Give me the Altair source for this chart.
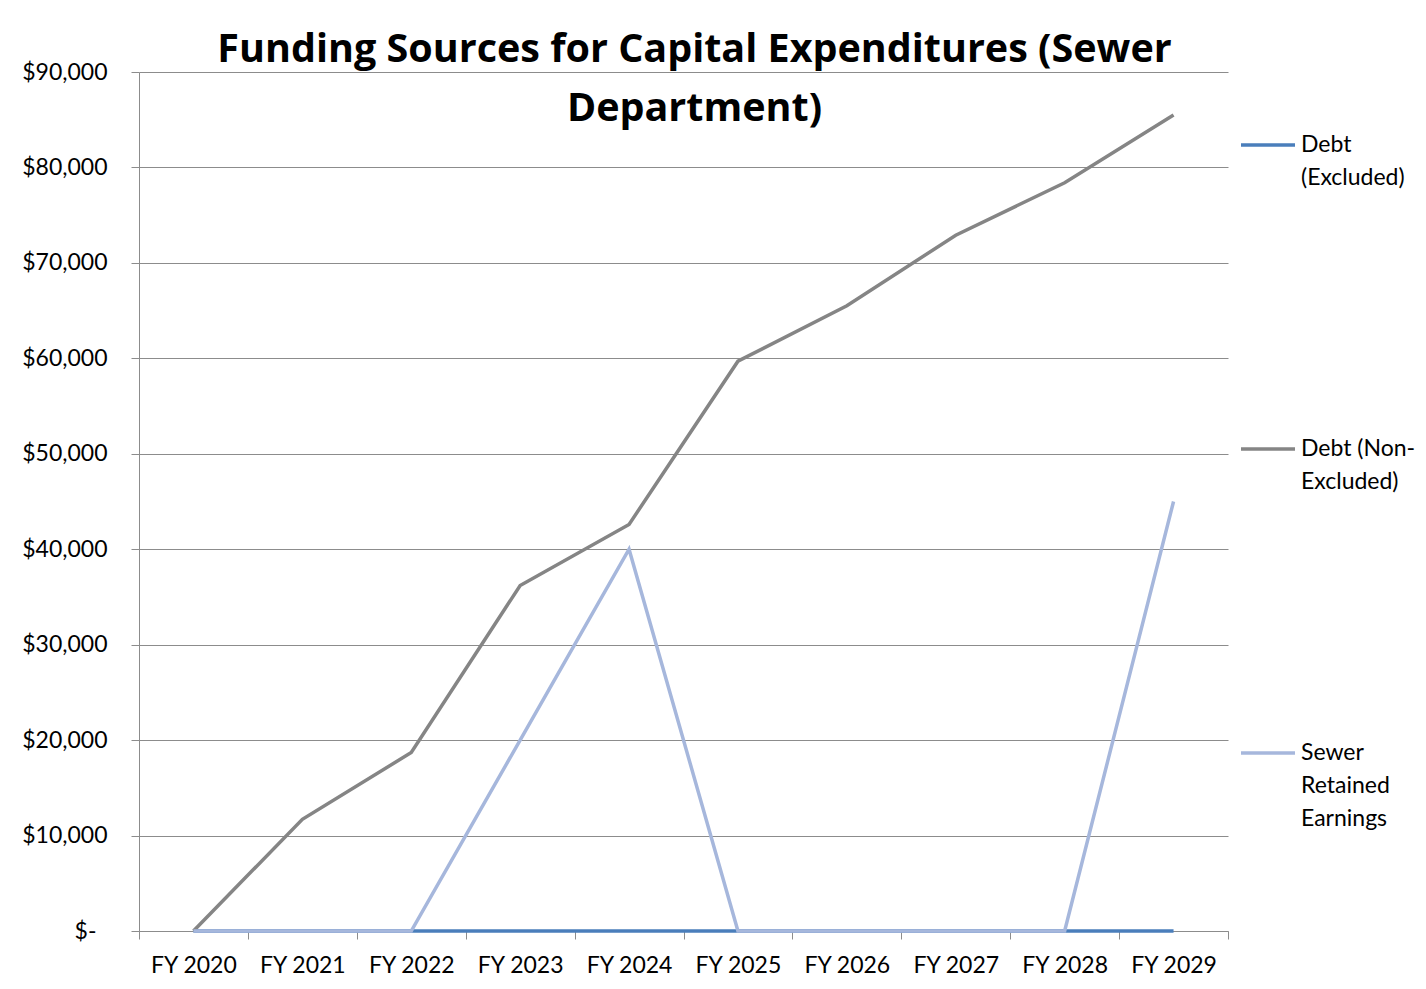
import altair as alt
import pandas as pd

years = ["FY 2020", "FY 2021", "FY 2022", "FY 2023", "FY 2024",
         "FY 2025", "FY 2026", "FY 2027", "FY 2028", "FY 2029"]
debt_excluded = [0, 0, 0, 0, 0, 0, 0, 0, 0, 0]
debt_non_excluded = [0, 11700, 18700, 36200, 42600, 59700, 65500, 72900, 78400, 85500]
sewer_retained = [0, 0, 0, 20000, 40000, 0, 0, 0, 0, 45000]

series_names = ["Debt (Excluded)", "Debt (Non-Excluded)", "Sewer Retained Earnings"]
series_colors = ["#4a7ebb", "#858585", "#a6b7dc"]

rows = []
for name, vals in zip(series_names, [debt_excluded, debt_non_excluded, sewer_retained]):
    for i, (y, v) in enumerate(zip(years, vals)):
        rows.append({"year": y, "series": name, "value": v, "order": series_names.index(name)})
df = pd.DataFrame(rows)

FONT = "Lato"

chart = alt.Chart(df).mark_line(strokeWidth=3.5, strokeCap="butt", strokeJoin="miter").encode(
    x=alt.X("year:N", sort=years, title=None,
            scale=alt.Scale(paddingInner=0, paddingOuter=0),
            axis=alt.Axis(labelAngle=0, tickBand="extent", grid=False,
                          domainColor="#8c8c8c", tickColor="#8c8c8c", tickSize=8,
                          labelFontSize=23, labelColor="#000000", labelFont=FONT,
                          labelPadding=15)),
    y=alt.Y("value:Q", title=None,
            scale=alt.Scale(domain=[0, 90000], nice=False),
            axis=alt.Axis(values=list(range(0, 90001, 10000)),
                          labelExpr="datum.value == 0 ? '$-' : format(datum.value, '$,.0f')",
                          grid=True, gridColor="#8c8c8c", gridWidth=1,
                          domainColor="#8c8c8c", tickColor="#8c8c8c", tickSize=8,
                          labelFontSize=23, labelColor="#000000", labelFont=FONT,
                          labelPadding={"condition": {"test": "datum.value == 0", "value": 35}, "value": 24})),
    color=alt.Color("series:N", sort=series_names,
                    scale=alt.Scale(domain=series_names, range=series_colors),
                    legend=alt.Legend(
                        title=None, orient="none", legendX=1100, legendY=44,
                        symbolType="stroke", symbolSize=2916, symbolStrokeWidth=3.5,
                        labelFontSize=23, labelFont=FONT, labelColor="#000000",
                        labelOffset=4, padding=0, rowPadding=230, labelLimit=300,
                        labelExpr="datum.label == 'Debt (Excluded)' ? ['Debt', '(Excluded)'] : datum.label == 'Debt (Non-Excluded)' ? ['Debt (Non-', 'Excluded)'] : ['Sewer', 'Retained', 'Earnings']"
                    )),
    order=alt.Order("order:Q"),
    detail="series:N",
).properties(
    width=1089,
    height=859,
    title=alt.Title(
        text=["Funding Sources for Capital Expenditures (Sewer", "Department)"],
        fontSize=39.5, font="Open Sans", fontWeight="bold", color="#000000",
        anchor="middle", frame="group", lineHeight=59, dx=11, dy=72,
    ),
    autosize=alt.AutoSizeParams(type="none"),
    padding={"left": 131, "top": 64, "right": 190, "bottom": 50},
).configure(style={"guide-label": {"lineHeight": 33}}).configure_view(strokeWidth=0)

chart.save("out.html", embed_options={"renderer": "svg", "actions": False})
